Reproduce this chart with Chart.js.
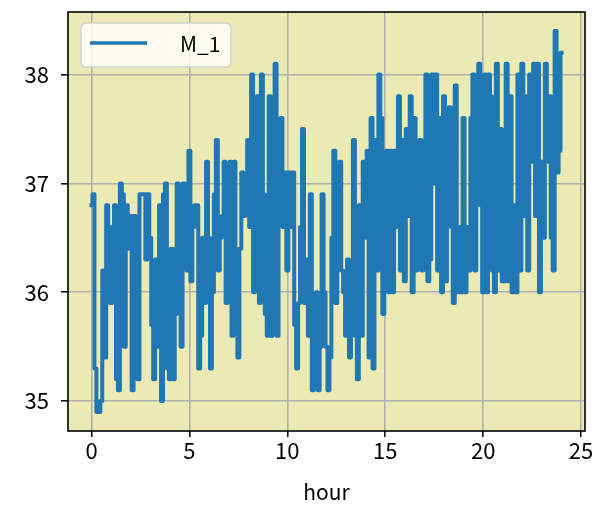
<!DOCTYPE html>
<html>
<head>
<meta charset="utf-8">
<script src="https://cdn.jsdelivr.net/npm/chart.js@4.4.1/dist/chart.umd.min.js"></script>
<style>
  html, body { margin: 0; padding: 0; background: #ffffff; }
  #wrap { width: 603px; height: 520px; position: relative; }
</style>
</head>
<body>
<div id="wrap"><canvas id="c" width="603" height="520"></canvas></div>
<script>
// ---- data (one reading every 0.1 hour, 0 to 24 h) ----
const seriesName = "M_1";
const stepHours = 0.1;
const m1_h00 = [36.8,36.9,35.3,34.9,34.9,35.0,36.2,35.4,36.8,36.6,35.9,36.6,36.8,35.2,35.1,37.0,36.9,35.5,36.8,36.4,
                36.7,35.1,36.7,35.6,35.2,36.9,36.9,36.9,36.3,36.9,36.5,35.7,35.2,36.3,35.5,36.8,35.0,36.9];
const m1_h04 = [37.0,35.3,35.2,36.4,35.2,35.8,37.0,36.1,35.5,37.0,36.7,36.2,37.3,36.1,36.6,36.8,36.8,35.3,35.6,36.5,
                35.9,37.2,36.5,35.3,36.0,36.9,37.4,36.2,36.5,36.7,37.2,35.9,36.4,37.2,35.6,37.2,35.8,35.4,36.4,37.1,36.7];
const m1_h08 = [36.8,37.4,36.6,38.0,36.0,37.3,37.8,35.9,38.0,36.9,35.8,35.6,37.8,35.6,36.4,38.1,35.6,36.9,37.6,36.6,
                37.1,36.2,37.1,36.6,37.1,35.7,35.3,35.9,36.6,37.5,35.9,36.3,35.6,36.9,35.1,35.9,36.0,35.1,35.5,36.9,36.0];
const m1_h12 = [35.5,35.1,35.4,36.5,37.3,35.9,36.6,37.2,36.2,36.0,35.6,36.3,35.4,36.2,37.4,35.6,35.2,36.8,35.6,37.2,
                36.5,37.3,35.4,37.6,35.3,37.4,36.2,38.0,37.6,35.8,36.4,37.3,36.0,37.3,36.0,37.3,36.6,37.8,36.2,37.4];
const m1_h16 = [36.1,37.5,36.7,37.8,36.0,37.6,36.2,36.5,37.4,36.2,36.6,38.0,36.1,36.3,38.0,37.0,38.0,36.2,37.6,36.0,
                37.8,36.1,37.6,37.7,36.6,35.9,37.9,36.0,36.6,36.0,37.6,36.0,36.6,36.2,37.6,38.0,36.2,37.0,38.1,36.8];
const m1_h20 = [36.0,38.0,36.0,38.0,37.8,36.2,36.0,38.1,36.2,37.5,36.1,36.1,38.1,36.1,37.8,36.0,36.8,36.0,38.0,36.2,
                38.1,36.7,37.8,36.2,38.0,37.2,38.1,36.7,38.1,36.0,37.2,36.5,38.1,37.2,37.8,36.5,36.2,38.4,37.1,37.3,38.2];
const xTicks = [0, 5, 10, 15, 20, 25];
const yTicks = [35, 36, 37, 38];
const xLabel = "hour";

const m1 = [].concat(m1_h00, m1_h04, m1_h08, m1_h12, m1_h16, m1_h20);
const points = m1.map((v, i) => ({ x: Math.round(i * stepHours * 10) / 10, y: v }));

const FONT = "'Noto Sans CJK JP', 'Noto Sans', sans-serif";
const LINE = '#1f77b4';

const bgPlugin = {
  id: 'bg',
  beforeDraw(chart) {
    const { ctx, chartArea: a } = chart;
    ctx.save();
    ctx.fillStyle = '#ebe9b4';
    ctx.fillRect(a.left, a.top, a.right - a.left, a.bottom - a.top);
    ctx.restore();
  },
  afterDraw(chart) {
    const { ctx, chartArea: a } = chart;
    ctx.save();
    ctx.strokeStyle = '#000';
    ctx.lineWidth = 1.6;
    ctx.strokeRect(a.left, a.top, a.right - a.left, a.bottom - a.top);
    // legend
    const x0 = a.left + 13, y0 = a.top + 11, w = 150, h = 44, r = 5;
    ctx.beginPath();
    ctx.moveTo(x0 + r, y0);
    ctx.arcTo(x0 + w, y0, x0 + w, y0 + h, r);
    ctx.arcTo(x0 + w, y0 + h, x0, y0 + h, r);
    ctx.arcTo(x0, y0 + h, x0, y0, r);
    ctx.arcTo(x0, y0, x0 + w, y0, r);
    ctx.closePath();
    ctx.fillStyle = 'rgba(255,255,255,0.8)';
    ctx.fill();
    ctx.strokeStyle = '#d4d4d0';
    ctx.lineWidth = 1.5;
    ctx.stroke();
    ctx.beginPath();
    ctx.moveTo(x0 + 9, y0 + 20);
    ctx.lineTo(x0 + 66, y0 + 20);
    ctx.strokeStyle = LINE;
    ctx.lineWidth = 3.5;
    ctx.stroke();
    ctx.fillStyle = '#000';
    ctx.font = '21px ' + FONT;
    ctx.textBaseline = 'middle';
    ctx.textAlign = 'left';
    ctx.fillText(chart.data.datasets[0].label, x0 + 99, y0 + 21);
    ctx.restore();
  }
};

new Chart(document.getElementById('c'), {
  type: 'line',
  data: {
    datasets: [{
      label: seriesName,
      data: points,
      borderColor: LINE,
      backgroundColor: LINE,
      borderWidth: 4,
      pointRadius: 0,
      tension: 0,
      stepped: 'middle',
      borderJoinStyle: 'round',
      borderCapStyle: 'square'
    }]
  },
  options: {
    responsive: false,
    animation: false,
    layout: { padding: { top: 12, right: 18, left: 0, bottom: 0 } },
    plugins: { legend: { display: false }, tooltip: { enabled: false } },
    scales: {
      x: {
        type: 'linear',
        min: -1.2,
        max: 25.2,
        afterBuildTicks(s) { s.ticks = xTicks.map(v => ({ value: v })); },
        afterFit(s) { s.height = 89; s.paddingLeft = 0; s.paddingRight = 0; },
        ticks: { color: '#000', font: { family: FONT, size: 22 }, padding: 0, maxRotation: 0,
                 callback: v => String(v) },
        grid: { color: '#b0b0b0', lineWidth: 1.6, tickColor: '#000', tickLength: 6, tickWidth: 1.5 },
        border: { display: false },
        title: { display: true, text: xLabel, color: '#000', font: { family: FONT, size: 21 },
                 padding: { top: 0, bottom: 15 } }
      },
      y: {
        type: 'linear',
        min: 34.725,
        max: 38.575,
        afterBuildTicks(s) { s.ticks = yTicks.map(v => ({ value: v })); },
        afterFit(s) { s.width = 68; s.paddingTop = 0; s.paddingBottom = 0; },
        ticks: { color: '#000', font: { family: FONT, size: 22 }, padding: 12,
                 callback: v => String(v) },
        grid: { color: '#b0b0b0', lineWidth: 1.6, tickColor: '#000', tickLength: 7, tickWidth: 1.5 },
        border: { display: false }
      }
    }
  },
  plugins: [bgPlugin]
});
</script>
</body>
</html>
